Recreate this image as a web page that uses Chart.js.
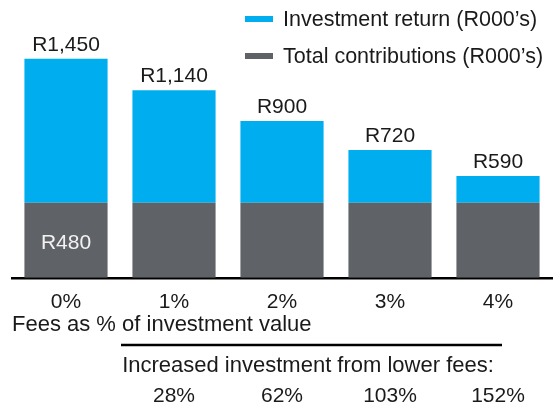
<!DOCTYPE html>
<html>
<head>
<meta charset="utf-8">
<script src="https://cdn.jsdelivr.net/npm/chart.js@4.4.1/dist/chart.umd.min.js"></script>
<style>
  html, body { margin: 0; padding: 0; background: #fff; }
</style>
</head>
<body>
<canvas id="fees-chart" width="556" height="405"></canvas>
<script>
const fees = ["0%", "1%", "2%", "3%", "4%"];
const contributions = [480, 480, 480, 480, 480];
const investmentReturn = [970, 660, 420, 240, 110];
const increasedInvestment = ["", "28%", "62%", "103%", "152%"];

const BLUE = "#00aeef";
const GREY = "#5f6367";
const TEXT = "#1a1a1a";
const FONT = "'Liberation Sans', Arial, Helvetica, sans-serif";

Chart.defaults.font.family = FONT;
Chart.defaults.color = TEXT;

// totals on top of each bar, plus the contribution value in the first bar
const barLabels = {
  id: "barLabels",
  afterDatasetsDraw(chart) {
    const ctx = chart.ctx;
    const greyBars = chart.getDatasetMeta(0).data;
    const blueBars = chart.getDatasetMeta(1).data;
    ctx.save();
    ctx.font = "21px " + FONT;
    ctx.textAlign = "center";
    ctx.textBaseline = "alphabetic";
    ctx.fillStyle = TEXT;
    blueBars.forEach((bar, i) => {
      const total = contributions[i] + investmentReturn[i];
      ctx.fillText("R" + total.toLocaleString("en-US"), bar.x, bar.y - 8);
    });
    const first = greyBars[0];
    ctx.fillStyle = "#f2f2f2";
    ctx.textBaseline = "middle";
    ctx.fillText("R" + contributions[0], first.x, (first.y + first.base) / 2 + 3);
    ctx.restore();
  },
};

// stacked legend in the top right corner
const cornerLegend = {
  id: "cornerLegend",
  afterDraw(chart) {
    const ctx = chart.ctx;
    const sets = chart.data.datasets.slice().reverse();
    ctx.save();
    ctx.font = "21.5px " + FONT;
    ctx.textBaseline = "middle";
    ctx.textAlign = "left";
    sets.forEach((ds, i) => {
      const y = 19 + i * 37;
      ctx.fillStyle = ds.backgroundColor;
      ctx.fillRect(245, y - 3, 28, 6);
      ctx.fillStyle = TEXT;
      ctx.fillText(ds.label, 283, y + 1);
    });
    ctx.restore();
  },
};

// rule and "increased investment" row under the axis title
const feeNote = {
  id: "feeNote",
  afterDraw(chart) {
    const ctx = chart.ctx;
    const x = chart.scales.x;
    ctx.save();
    ctx.strokeStyle = "#000";
    ctx.lineWidth = 2.5;
    ctx.beginPath();
    ctx.moveTo(121, 345);
    ctx.lineTo(502, 345);
    ctx.stroke();
    ctx.fillStyle = TEXT;
    ctx.font = "22px " + FONT;
    ctx.textAlign = "center";
    ctx.textBaseline = "middle";
    ctx.fillText("Increased investment from lower fees:", 308, 366);
    ctx.font = "21px " + FONT;
    increasedInvestment.forEach((txt, i) => {
      if (txt) ctx.fillText(txt, x.getPixelForValue(i), 396);
    });
    ctx.restore();
  },
};

new Chart(document.getElementById("fees-chart"), {
  type: "bar",
  data: {
    labels: fees,
    datasets: [
      {
        label: "Total contributions (R000’s)",
        data: contributions,
        backgroundColor: GREY,
        categoryPercentage: 0.77,
        barPercentage: 1,
      },
      {
        label: "Investment return (R000’s)",
        data: investmentReturn,
        backgroundColor: BLUE,
        categoryPercentage: 0.77,
        barPercentage: 1,
      },
    ],
  },
  options: {
    responsive: false,
    animation: false,
    layout: {
      padding: { top: 20, left: 12, right: 4, bottom: 69 },
    },
    plugins: {
      legend: { display: false },
      tooltip: { enabled: false },
    },
    scales: {
      x: {
        stacked: true,
        grid: { display: false, drawTicks: false },
        border: { display: true, color: "#000", width: 2.5 },
        ticks: {
          color: TEXT,
          padding: 12,
          font: { size: 21, lineHeight: 1.2 },
        },
        title: {
          display: true,
          text: "Fees as % of investment value",
          align: "start",
          color: TEXT,
          font: { size: 22, lineHeight: 1 },
          padding: { top: -13, bottom: 0 },
        },
      },
      y: {
        type: "logarithmic",
        stacked: true,
        display: false,
        bounds: "data",
        min: 270,
        max: 1954,
      },
    },
  },
  plugins: [barLabels, cornerLegend, feeNote],
});
</script>
</body>
</html>
